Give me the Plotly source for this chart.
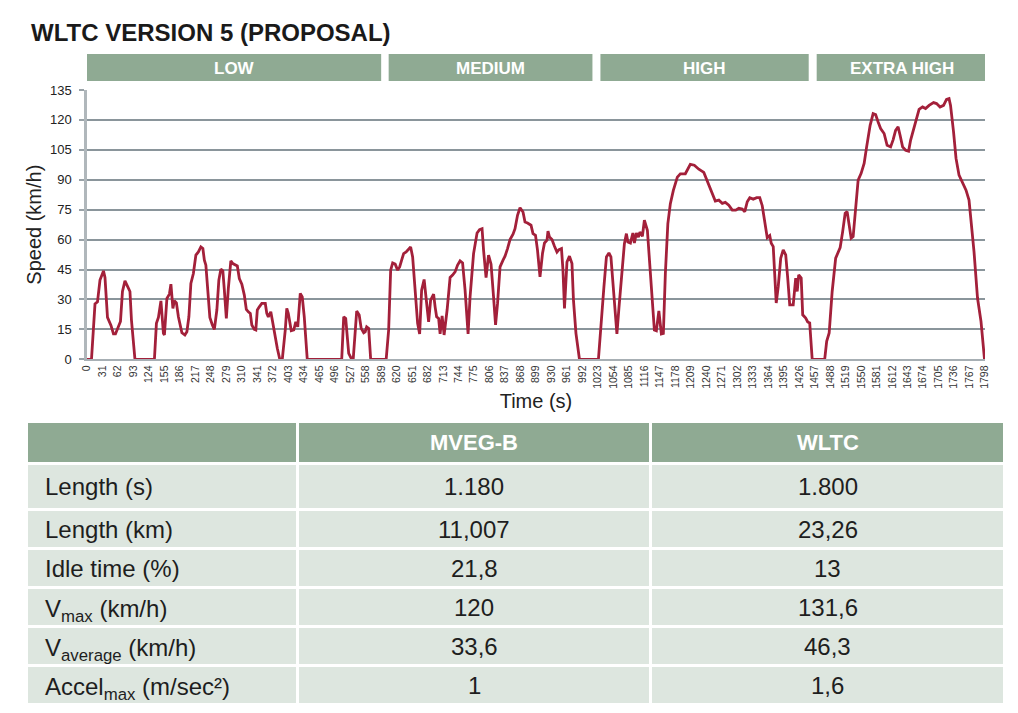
import plotly.graph_objects as go

# ---------------- data ----------------
time_s = [0, 9, 16, 21, 26, 33, 36, 41, 48, 53, 57, 63, 67, 71, 76, 81, 86, 89, 96, 135,
          139, 143, 148, 153, 155, 160, 165, 168, 172, 175, 179, 183, 190, 196, 200, 204, 208, 213, 218, 223,
          228, 232, 235, 238, 242, 246, 251, 255, 260, 264, 268, 272, 275, 279, 283, 288, 292, 297, 301, 305,
          310, 315, 319, 323, 327, 330, 335, 338, 341, 345, 350, 357, 360, 363, 368, 371, 377, 381, 386, 391,
          397, 400, 403, 409, 414, 418, 422, 427, 431, 435, 441, 510, 514, 518, 524, 530, 533, 537, 540, 545,
          549, 554, 557, 560, 564, 568, 599,
          604, 608, 612, 617, 622, 626, 630, 634, 639, 644, 648, 652, 657, 662, 666, 670, 675, 679, 684, 688,
          694, 697, 700, 704, 707, 711, 715, 721, 727, 732, 737, 742, 747, 752, 757, 763, 767, 774, 781, 786,
          791, 794, 799, 804, 809, 814, 818, 822, 827, 833, 837, 842, 847, 853, 857, 862, 867, 873, 877, 882,
          889, 893, 898, 902, 907, 912, 916, 921, 923, 926, 931, 936, 941, 945, 950, 953, 956, 961, 966, 971,
          974, 979, 986, 1024,
          1029, 1035, 1040, 1045, 1049, 1053, 1058, 1061, 1065, 1071, 1076, 1080, 1083, 1088, 1093, 1096, 1100,
          1104, 1107, 1112, 1116, 1122, 1127, 1132, 1136, 1140, 1145, 1150, 1154, 1158, 1163, 1168, 1174, 1182,
          1188, 1198, 1203, 1208, 1216, 1225, 1235, 1242, 1250, 1258, 1265, 1272, 1278, 1285, 1292, 1299, 1305,
          1312, 1317, 1322, 1327, 1334, 1341, 1347, 1352, 1357, 1362, 1367, 1370, 1374, 1377, 1380, 1384, 1389,
          1394, 1399, 1403, 1407, 1414, 1419, 1422, 1425, 1430, 1433, 1439, 1443, 1447, 1452, 1477,
          1481, 1486, 1492, 1499, 1508, 1513, 1518, 1522, 1526, 1530, 1534, 1539, 1544, 1550, 1556, 1561, 1568,
          1574, 1579, 1584, 1589, 1596, 1602, 1609, 1614, 1619, 1624, 1628, 1633, 1639, 1645, 1649, 1655, 1661,
          1666, 1673, 1679, 1686, 1695, 1701, 1708, 1715, 1721, 1726, 1729, 1735, 1740, 1746, 1753, 1760, 1766,
          1771, 1776, 1783, 1790, 1797]

speed_kmh = [0, 0, 27.7, 28.8, 39.7, 44.3, 41, 21, 17, 12.7, 12.7, 17, 19, 34, 39.3, 36.7, 34, 19.7, 0, 0,
             18, 21, 29.3, 13, 12.2, 30.5, 32.7, 37.7, 25.5, 29.3, 28.3, 21.3, 13.3, 12.2, 13.8, 21.3, 38, 43, 52.2, 53.8,
             56.3, 55.5, 49.7, 47.2, 34.7, 21, 17.2, 15, 24.7, 39.7, 45.2, 44.3, 34.7, 20.5, 35.5, 49.3, 48, 47.2, 46.8, 40.5,
             37.7, 32.2, 25, 23.8, 23, 17.2, 15, 14.7, 24.7, 26.3, 28, 28, 23, 21.3, 23.8, 19.7, 9.7, 5.5, 0, 0,
             14.7, 25.5, 23, 14.3, 14.7, 18.8, 16.3, 33, 31.3, 21.3, 0, 0, 21.3, 20.5, 3, 0, 0, 16.3, 24.2, 22.2,
             15.5, 13.3, 13.8, 16.3, 15.5, 0, 0,
             14.7, 44.7, 48.3, 47.7, 44.7, 46.3, 49.7, 53, 53.8, 55.5, 56.3, 51.3, 36.3, 18, 12.7, 34.7, 40, 29.7, 18.8, 29.7,
             32.7, 26.3, 21.3, 20.5, 12.7, 21.7, 12.2, 24.7, 41, 42.2, 43.8, 47.2, 49.3, 48.3, 34.7, 12.7, 31.3, 53, 63.3, 65,
             65.5, 54.7, 41, 52.2, 47.7, 31.3, 17.2, 28, 46.3, 49.7, 51.7, 55.5, 60, 62.7, 65.5, 72.2, 76, 73.8, 68.8, 68.3,
             67.2, 63, 62.2, 54.7, 41.3, 53, 58.3, 59.7, 64.3, 61.3, 60, 56.7, 53.8, 55, 55.5, 44.7, 25.5, 48.8, 51.7, 48,
             29.7, 13, 0, 0,
             18, 36.3, 51.3, 53.3, 51.3, 39.7, 21.3, 12.7, 25.5, 45.5, 58, 63, 58.8, 58.3, 63.3, 58.3, 63.3,
             61.3, 63.8, 61.7, 69.7, 64.7, 46.3, 28, 14.7, 14.3, 24.3, 12.7, 13, 43, 68, 78, 84.7, 91.3,
             93, 93, 95.5, 97.7, 97.3, 95.3, 93.7, 89, 84, 79.3, 79.8, 78.2, 78.7, 77.3, 74.8, 74.8, 75.7,
             75.3, 74, 79, 81, 80.3, 81, 81, 77, 69.8, 61, 62, 58.2, 56.5, 44, 28.2, 36.5, 50.7,
             54.8, 52.3, 40.7, 27.3, 27.3, 40.7, 34, 42.3, 40.7, 22.3, 20.7, 18.7, 18.2, 0, 0,
             9, 13.2, 34, 50.7, 56, 64, 73.2, 74, 67.3, 60.7, 61.5, 77.3, 89.8, 93.2, 98.2, 106.5, 117.3,
             123.2, 122.7, 119, 115.7, 113.2, 107.3, 106.5, 110, 114.8, 116.5, 112.3, 106.5, 104.8, 104.3, 109.8, 115.7, 121.5,
             125.3, 126.5, 125.7, 127.3, 128.7, 128.2, 126.5, 127.3, 130.3, 130.7, 127.3, 114, 100.7, 92.3, 88.2, 84.8, 79.8,
             67.3, 54, 30.7, 19, 0]

x_ticks = list(range(0, 1799, 31))
y_ticks = [0, 15, 30, 45, 60, 75, 90, 105, 120, 135]

phases = ["LOW", "MEDIUM", "HIGH", "EXTRA HIGH"]
phase_start = [0, 604, 1028, 1461]
phase_end = [589, 1012, 1445, 1802]

table_header = ["", "MVEG-B", "WLTC"]
table_params = ["Length (s)", "Length (km)", "Idle time (%)", "V<sub>max</sub> (km/h)",
                "V<sub>average</sub> (km/h)", "Accel<sub>max</sub> (m/sec²)"]
mveg_b = ["1.180", "11,007", "21,8", "120", "33,6", "1"]
wltc = ["1.800", "23,26", "13", "131,6", "46,3", "1,6"]

# ---------------- style / layout (pixels) ----------------
W, H = 1018, 713
GREEN = "#8FAA93"
LIGHT = "#DDE6DF"
RED = "#A3203A"
FONT = "Liberation Sans, Arial, sans-serif"

x0_px, x1_px = 87, 985
y_top_px, y_bot_px = 90, 359.3

col_edges = [(28, 296), (299, 649), (652, 1003)]
header_box = (423, 462)
row_boxes = [(465, 508), (511, 547), (550, 586), (589, 625), (628, 664), (667, 703)]


def px(xp):
    return xp / W


def py(yp):
    return 1 - yp / H


fig = go.Figure()

fig.add_trace(go.Scatter(
    x=time_s, y=speed_kmh, mode="lines",
    line=dict(color=RED, width=2.8),
    hoverinfo="skip", showlegend=False,
))

shapes = []
annotations = []

# phase bars
for name, s, e in zip(phases, phase_start, phase_end):
    shapes.append(dict(type="rect", xref="x", yref="paper",
                       x0=s, x1=e, y0=py(81), y1=py(54),
                       fillcolor=GREEN, line=dict(width=0), layer="above"))
    annotations.append(dict(x=(s + e) / 2, y=py(68), xref="x", yref="paper",
                            text=f"<b>{name}</b>", showarrow=False,
                            font=dict(family=FONT, size=17, color="white"),
                            xanchor="center", yanchor="middle"))

# title
annotations.append(dict(x=px(29), y=py(32), xref="paper", yref="paper",
                        text="<b>WLTC VERSION 5 (PROPOSAL)</b>", showarrow=False,
                        font=dict(family=FONT, size=24, color="#1a1a1a"),
                        xanchor="left", yanchor="middle"))

# table header
for (c0, c1), label in zip(col_edges, table_header):
    shapes.append(dict(type="rect", xref="paper", yref="paper",
                       x0=px(c0), x1=px(c1), y0=py(header_box[1]), y1=py(header_box[0]),
                       fillcolor=GREEN, line=dict(width=0)))
    if label:
        annotations.append(dict(x=px((c0 + c1) / 2), y=py(sum(header_box) / 2),
                                xref="paper", yref="paper", text=f"<b>{label}</b>",
                                showarrow=False, xanchor="center", yanchor="middle",
                                font=dict(family=FONT, size=22, color="white")))

# table body
columns = [table_params, mveg_b, wltc]
for ci, ((c0, c1), col) in enumerate(zip(col_edges, columns)):
    for (r0, r1), val in zip(row_boxes, col):
        shapes.append(dict(type="rect", xref="paper", yref="paper",
                           x0=px(c0), x1=px(c1), y0=py(r1), y1=py(r0),
                           fillcolor=LIGHT, line=dict(width=0)))
        ys = -3 if "<sub>" in val else 0
        if ci == 0:
            annotations.append(dict(x=px(c0 + 15), y=py((r0 + r1) / 2), xref="paper", yref="paper",
                                    text=val, showarrow=False, xanchor="left", yanchor="middle",
                                    yshift=ys, font=dict(family=FONT, size=24, color="#1e1e1e")))
        else:
            annotations.append(dict(x=px((c0 + c1) / 2), y=py((r0 + r1) / 2), xref="paper", yref="paper",
                                    text=val, showarrow=False, xanchor="center", yanchor="middle",
                                    font=dict(family=FONT, size=24, color="#1e1e1e")))

fig.update_layout(
    width=W, height=H,
    margin=dict(l=0, r=0, t=0, b=0, autoexpand=False),
    paper_bgcolor="white", plot_bgcolor="white",
    font=dict(family=FONT, color="#222"),
    showlegend=False,
    shapes=shapes,
    annotations=annotations,
    xaxis=dict(
        domain=[px(x0_px), px(x1_px)],
        range=[0, 1798],
        tickmode="array", tickvals=x_ticks, ticktext=[str(t) for t in x_ticks],
        tickangle=-90, ticks="", showgrid=False, zeroline=False,
        showline=True, linecolor="#A7AFB4", linewidth=2,
        tickfont=dict(family=FONT, size=10.5, color="#333"),
        title=dict(text="Time (s)", font=dict(family=FONT, size=20, color="#222"), standoff=6),
        automargin=False, fixedrange=True,
    ),
    yaxis=dict(
        domain=[py(y_bot_px), py(y_top_px)],
        range=[0, 135],
        tickmode="array", tickvals=y_ticks,
        ticks="outside", ticklen=5, tickcolor="#9AA3A8", tickwidth=1.5,
        ticklabelstandoff=5,
        showgrid=True, gridcolor="#8A959B", gridwidth=1.6,
        zeroline=False, showline=True, linecolor="#B0B7BB", linewidth=2.5,
        tickfont=dict(family=FONT, size=13, color="#222"),
        title=dict(text="Speed (km/h)", font=dict(family=FONT, size=20, color="#222"), standoff=3),
        automargin=False, fixedrange=True,
    ),
)

fig.write_html("out.html", include_plotlyjs=True, full_html=True,
               config={"displayModeBar": False},
               post_script="document.body.style.margin='0';")
